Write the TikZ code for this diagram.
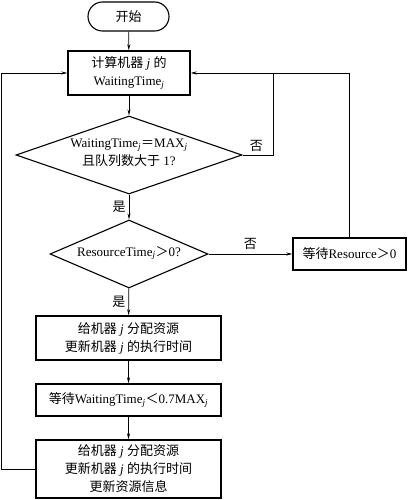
\documentclass[tikz,border=0pt]{standalone}
\usepackage{fontspec}
\setmainfont{Liberation Serif}
\newfontfamily\cjk{Noto Sans CJK SC}
\usetikzlibrary{shapes.geometric,shapes.misc,arrows.meta}
\newcommand{\zh}[1]{{\cjk #1}}
\newcommand{\sj}{\textsubscript{\itshape j}}
\begin{document}
\begin{tikzpicture}[x=1pt,y=-1pt,
  every node/.style={font=\fontsize{13}{18}\selectfont, align=center, inner sep=0pt},
  term/.style={rounded rectangle, draw, line width=1.1pt, minimum width=81pt, minimum height=29pt},
  proc/.style={rectangle, draw, line width=1.5pt, minimum width=#1},
  dia/.style={diamond, draw, line width=1.1pt},
  conn/.style={line width=0.7pt},
  arr/.style={conn, -{Stealth[length=6pt,width=3pt]}},
  lbl/.style={font=\fontsize{13}{14}\selectfont}
]
\useasboundingbox (0,0) rectangle (407,500);

\node[term] (start) at (128.5,16.5) {\zh{开始}};
\node[proc=122pt, minimum height=44pt] (b1) at (129,73) {\zh{计算机器} \textit{j} \zh{的}\\WaitingTime\sj};
\node[dia, minimum width=226pt, minimum height=78pt] (d1) at (129,155) {};
\node (d1t) at (129,153) {WaitingTime\sj{\cjk ＝}MAX\sj\\\zh{且队列数大于} 1?};
\node[dia, minimum width=158pt, minimum height=68pt] (d2) at (129,254) {};
\node (d2t) at (129,253) {ResourceTime\sj{\cjk ＞}0?};
\node[proc=113pt, minimum height=32pt] (wr) at (349.5,254) {\zh{等待}Resource{\cjk ＞}0};
\node[proc=185pt, minimum height=44pt] (b3) at (128.5,338) {\zh{给机器} \textit{j} \zh{分配资源}\\\zh{更新机器} \textit{j} \zh{的执行时间}};
\node[proc=185pt, minimum height=32pt] (b4) at (128.5,400) {\zh{等待}WaitingTime\sj{\cjk ＜}0.7MAX\sj};
\node[proc=185pt, minimum height=58pt] (b5) at (128.5,469) {\zh{给机器} \textit{j} \zh{分配资源}\\\zh{更新机器} \textit{j} \zh{的执行时间}\\\zh{更新资源信息}};

\coordinate (jr) at (273,73);
\coordinate (jl) at (1.5,73);

\draw[arr] (start) -- (b1);
\draw[arr] (b1) -- (d1);
\draw[arr] (d1) -- node[lbl, left=3pt] {\zh{是}} (d2);
\draw[arr] (d2) -- node[lbl, left=3pt] {\zh{是}} (b3);
\draw[arr] (b3) -- (b4);
\draw[arr] (b4) -- (b5);
\draw[arr] (d2) -- node[lbl, above=4pt] {\zh{否}} (wr);
\draw[conn] (d1.east) -- node[lbl, pos=0.45, above=3pt] {\zh{否}} (d1.east -| jr) -- (jr);
\draw[arr] (wr.north) |- (b1.east);
\draw[arr] (b5.west) -| (jl) -- (b1.west);
\end{tikzpicture}
\end{document}
